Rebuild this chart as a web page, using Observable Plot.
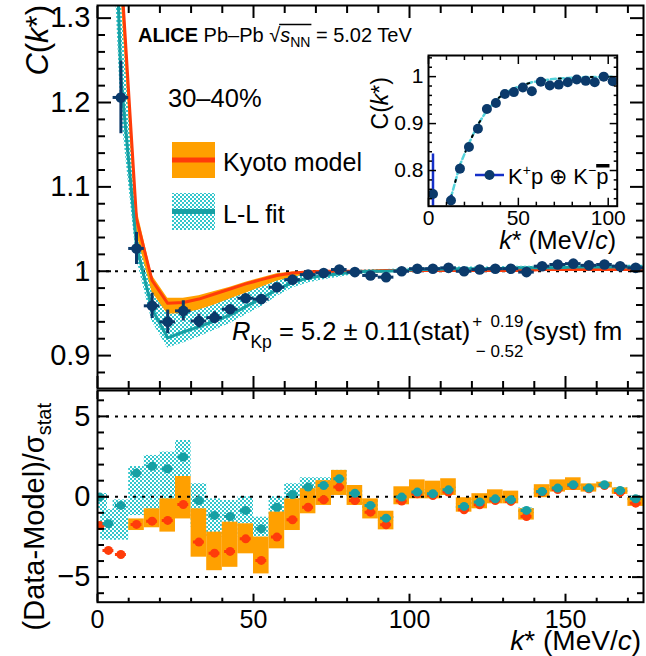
<!DOCTYPE html>
<html>
<head>
<meta charset="utf-8">
<script src="https://cdn.jsdelivr.net/npm/d3@7"></script>
<script src="https://cdn.jsdelivr.net/npm/@observablehq/plot@0.6"></script>
<style>
html,body{margin:0;padding:0;background:#fff;}
#wrap{position:relative;width:646px;height:656px;overflow:hidden;background:#fff;}
#wrap svg{position:absolute;left:0;top:0;}
</style>
</head>
<body>
<div id="wrap"></div>
<script>
// ---------------- data ----------------
const kBins = [2.5,7.5,12.5,17.5,22.5,27.5,32.5,37.5,42.5,47.5,52.5,57.5,62.5,67.5,72.5,77.5,82.5,87.5,92.5,97.5,102.5,107.5,112.5,117.5,122.5,127.5,132.5,137.5,142.5,147.5,152.5,157.5,162.5,167.5,172.5];
const corrData = [null,1.206,1.027,0.959,0.940,0.953,0.941,0.945,0.955,0.968,0.967,0.981,0.990,0.996,0.998,1.002,0.999,0.995,0.993,1.000,1.003,1.003,1.004,1.000,1.002,1.003,1.003,0.999,1.006,1.008,1.009,1.007,1.008,1.006,1.004];
const corrStat = [null,0.043,0.019,0.015,0.014,0.012,0.008,0.007,0.005,0.004,0.004,0.003,0.003,0.002,0.002,0.002,0.002,0.002,0.002,0.002,0.002,0.002,0.002,0.002,0.002,0.002,0.002,0.002,0.002,0.002,0.002,0.002,0.002,0.002,0.002];
const binHalfWidth = 2.5;

const modelK = [2.5,7.5,12.5,17.5,22.5,27.5,32.5,37.5,42.5,47.5,52.5,57.5,62.5,67.5,72.5,77.5,82.5,87.5,92.5,97.5,102.5,107.5,112.5,117.5,122.5,127.5,132.5,137.5,142.5,147.5,152.5,157.5,162.5,167.5,172.5,177.5];
const kyotoC  = [2.20,1.36,1.062,0.989,0.962,0.963,0.967,0.973,0.979,0.985,0.990,0.995,0.998,0.999,1.000,1.000,1.000,1.000,1.001,1.001,1.001,1.001,1.001,1.001,1.001,1.001,1.001,1.001,1.002,1.002,1.002,1.002,1.002,1.002,1.002,1.002];
const kyotoLo = [2.10,1.33,1.045,0.975,0.949,0.950,0.954,0.960,0.967,0.974,0.981,0.988,0.993,0.996,0.998,0.999,0.999,0.999,0.999,0.999,0.999,0.999,0.999,0.999,0.999,0.999,0.999,0.999,1.000,1.000,1.000,1.000,1.000,1.000,1.000,1.000];
const kyotoHi = [2.30,1.39,1.075,0.995,0.968,0.968,0.971,0.976,0.981,0.987,0.992,0.997,0.999,1.000,1.001,1.001,1.001,1.001,1.002,1.002,1.002,1.002,1.002,1.002,1.002,1.002,1.002,1.002,1.003,1.003,1.003,1.003,1.003,1.003,1.003,1.003];
const llC  = [1.76,1.23,1.030,0.955,0.921,0.928,0.934,0.941,0.948,0.958,0.968,0.978,0.987,0.992,0.995,0.997,0.999,1.000,1.000,1.001,1.002,1.002,1.003,1.003,1.003,1.003,1.004,1.004,1.004,1.004,1.005,1.005,1.005,1.005,1.005,1.005];
const llLo = [1.60,1.19,1.015,0.940,0.909,0.915,0.922,0.930,0.938,0.948,0.958,0.970,0.980,0.986,0.990,0.993,0.996,0.997,0.998,0.999,1.000,1.000,1.001,1.001,1.001,1.001,1.002,1.002,1.002,1.002,1.003,1.003,1.003,1.003,1.003,1.003];
const llHi = [1.90,1.33,1.065,0.985,0.956,0.958,0.962,0.967,0.973,0.979,0.985,0.991,0.995,0.997,0.999,1.000,1.001,1.002,1.002,1.003,1.004,1.004,1.005,1.005,1.005,1.005,1.006,1.006,1.006,1.006,1.007,1.007,1.007,1.007,1.007,1.007];

const insetK   = [2.5,12.5,17.5,22.5,27.5,32.5,37.5,42.5,47.5,52.5,57.5,62.5,67.5,72.5,77.5,82.5,87.5,92.5,97.5,102.5];
const insetC   = [0.750,0.736,0.804,0.850,0.889,0.931,0.944,0.963,0.967,0.977,0.969,0.989,0.981,0.983,0.988,0.994,0.991,0.988,1.000,0.990];
const insetErr = [0.085,0.011,0.008,0.006,0.005,0.004,0.004,0.003,0.003,0.003,0.003,0.003,0.003,0.003,0.003,0.003,0.003,0.003,0.003,0.003];
const insetFitK = [12.5,17.5,22.5,27.5,32.5,37.5,42.5,47.5,52.5,57.5,62.5,67.5,72.5,77.5,82.5,87.5,92.5,97.5,102.5];
const insetFit  = [0.743,0.812,0.858,0.898,0.928,0.950,0.965,0.975,0.982,0.988,0.991,0.994,0.996,0.997,0.998,0.999,0.999,1.000,1.000];

const residK = [0.7,3.5,7.5,12.5,17.5,22.5,27.5,32.5,37.5,42.5,47.5,52.5,57.5,62.5,67.5,72.5,77.5,82.5,87.5,92.5,97.5,102.5,107.5,112.5,117.5,122.5,127.5,132.5,137.5,142.5,147.5,152.5,157.5,162.5,167.5,172.5];
const residLL    = [-0.02,-1.68,-0.54,1.47,1.89,1.74,2.47,-0.23,-1.16,-1.23,-0.85,-1.99,-0.65,0.14,0.60,0.70,1.12,0.22,-0.54,-1.33,-0.02,0.29,0.19,0.43,-0.60,-0.33,-0.13,-0.19,-0.85,0.33,0.54,0.75,0.54,0.75,0.39,-0.13];
const residKyoto = [-1.79,-3.34,-3.59,-1.72,-1.52,-1.47,-0.48,-2.82,-3.51,-3.40,-2.62,-3.96,-2.51,-1.43,-0.65,-0.19,0.60,-0.23,-0.96,-1.74,-0.27,0.19,0.08,0.29,-0.81,-0.50,-0.23,-0.29,-1.23,0.29,0.45,0.70,0.50,0.70,0.27,-0.40];
const kyBandLo = [null,null,null,-2.10,-1.93,-2.20,-1.38,-3.76,-4.60,-4.39,-3.55,-4.80,-3.24,-2.10,-1.06,-0.54,0.08,-0.54,-1.38,-2.06,-0.50,-0.13,-0.13,0.08,-0.96,-0.75,-0.44,-0.44,-1.45,-0.06,0.29,0.39,0.29,0.55,0.15,-0.60];
const kyBandHi = [null,null,null,-1.38,-0.75,-0.13,1.26,-0.75,-2.20,-1.58,-1.68,-2.51,-0.95,-0.13,0.50,1.00,1.64,0.70,-0.13,-0.90,0.62,1.05,0.97,1.12,-0.06,0.19,0.43,0.35,-0.75,0.75,1.05,1.18,0.80,0.90,0.55,-0.05];
const llBandLo = [-0.85,-2.70,-2.70,-1.17,-0.85,-0.23,1.22,-1.90,-2.51,-2.51,-1.68,-2.50,-1.16,-0.33,0.29,0.39,0.70,-0.10,-0.90,-1.50,-0.20,0.10,0.00,0.25,-0.80,-0.50,-0.30,-0.35,-1.05,0.15,0.35,0.55,0.35,0.60,0.20,-0.30];
const llBandHi = [0.20,-0.80,-0.20,1.88,2.57,2.78,3.50,0.81,-0.13,-0.23,0.00,-1.27,0.00,0.81,1.18,1.18,1.64,0.50,-0.20,-1.15,0.15,0.45,0.35,0.60,-0.45,-0.15,0.05,0.00,-0.70,0.50,0.70,0.90,0.70,0.90,0.55,0.05];

// ticks
const xMajor = [0,50,100,150];
const xMinor = [10,20,30,40,60,70,80,90,110,120,130,140,160,170];
const xTickLabels = ["0","50","100","150"];
const yMainMajor = [0.9,1.0,1.1,1.2,1.3];
const yMainMinor = [0.88,0.92,0.94,0.96,0.98,1.02,1.04,1.06,1.08,1.12,1.14,1.16,1.18,1.22,1.24,1.26,1.28];
const yMainLabels = ["0.9","1","1.1","1.2","1.3"];
const yResMajor = [-5,0,5];
const yResMinor = [-6,-4,-3,-2,-1,1,2,3,4,6];
const yResLabels = ["\u22125","0","5"];
const xInsetMajor = [0,50,100];
const xInsetMinor = [10,20,30,40,60,70,80,90];
const xInsetLabels = ["0","50","100"];
const yInsetMajor = [0.8,0.9,1.0];
const yInsetMinor = [0.74,0.76,0.78,0.82,0.84,0.86,0.88,0.92,0.94,0.96,0.98,1.02,1.04];
const yInsetLabels = ["0.8","0.9","1"];

// ---------------- style ----------------
const FONT = '"Liberation Sans", Arial, Helvetica, sans-serif';
const W = 646, H = 656;
const NAVY = "#0b3a6b", RED = "#ff3c0a", ORANGE = "#ffa000", TEAL = "#17a0a4", CYAN = "#33c6cc", BLUE = "#1530c8";

function lab(ticks, labels) { return d => labels[ticks.findIndex(t => Math.abs(t - d) < 1e-9)]; }

function frameTicks(xMaj, xMin, yMaj, yMin, lxM, lxm, lyM, lym, sw) {
  const o = {tickFormat: () => "", label: null, strokeWidth: sw};
  return [
    Plot.axisX({...o, anchor: "bottom", ticks: xMaj, tickSize: -lxM}),
    Plot.axisX({...o, anchor: "bottom", ticks: xMin, tickSize: -lxm}),
    Plot.axisX({...o, anchor: "top", ticks: xMaj, tickSize: -lxM}),
    Plot.axisX({...o, anchor: "top", ticks: xMin, tickSize: -lxm}),
    Plot.axisY({...o, anchor: "left", ticks: yMaj, tickSize: -lyM}),
    Plot.axisY({...o, anchor: "left", ticks: yMin, tickSize: -lym}),
    Plot.axisY({...o, anchor: "right", ticks: yMaj, tickSize: -lyM}),
    Plot.axisY({...o, anchor: "right", ticks: yMin, tickSize: -lym})
  ];
}

function addPattern(svg, id) {
  const defs = d3.select(svg).insert("defs", ":first-child");
  const p = defs.append("pattern").attr("id", id).attr("width", 4).attr("height", 4).attr("patternUnits", "userSpaceOnUse");
  p.append("rect").attr("width", 4).attr("height", 4).attr("fill", "#ffffff");
  p.append("rect").attr("width", 2).attr("height", 2).attr("fill", CYAN);
  p.append("rect").attr("x", 2).attr("y", 2).attr("width", 2).attr("height", 2).attr("fill", CYAN);
}

const baseStyle = {background: "transparent", fontFamily: FONT, overflow: "visible"};

// ---------------- main panel ----------------
const mainRows = kBins.map((k, i) => ({k, c: corrData[i], e: corrStat[i]})).filter(d => d.c != null);
const modelRows = modelK.map((k, i) => ({k, ky: kyotoC[i], kyLo: kyotoLo[i], kyHi: kyotoHi[i], ll: llC[i], llLo: llLo[i], llHi: llHi[i]}));

const main = Plot.plot({
  width: W, height: H,
  marginLeft: 97, marginRight: 3, marginTop: 5, marginBottom: H - 388,
  x: {domain: [0, 175]},
  y: {domain: [0.861, 1.315]},
  style: baseStyle,
  marks: [
    Plot.areaY(modelRows, {x: "k", y1: "llLo", y2: "llHi", fill: "url(#llPatMain)", clip: true}),
    Plot.areaY(modelRows, {x: "k", y1: "kyLo", y2: "kyHi", fill: ORANGE, clip: true}),
    Plot.ruleY([1], {stroke: "black", strokeWidth: 2, strokeDasharray: "3,6"}),
    Plot.line(modelRows, {x: "k", y: "ky", stroke: RED, strokeWidth: 3, clip: true}),
    Plot.line(modelRows, {x: "k", y: "ll", stroke: TEAL, strokeWidth: 3, clip: true}),
    Plot.ruleX(mainRows, {x: "k", y1: d => d.c - d.e, y2: d => d.c + d.e, stroke: NAVY, strokeWidth: 3, clip: true}),
    Plot.ruleY(mainRows, {y: "c", x1: d => d.k - binHalfWidth, x2: d => d.k + binHalfWidth, stroke: NAVY, strokeWidth: 3, clip: true}),
    Plot.dot(mainRows, {x: "k", y: "c", r: 5.3, fill: NAVY, stroke: null, clip: true}),
    Plot.frame({stroke: "black", strokeWidth: 2}),
    ...frameTicks(xMajor, xMinor, yMainMajor, yMainMinor, 12, 7, 14, 8, 2),
    Plot.axisY({anchor: "left", ticks: yMainMajor, tickSize: 0, tickPadding: 7, tickFormat: lab(yMainMajor, yMainLabels), fontSize: 29, label: null})
  ]
});
addPattern(main, "llPatMain");

// ---------------- residual panel ----------------
const resRows = residK.map((k, i) => ({k, ll: residLL[i], ky: residKyoto[i], kyLo: kyBandLo[i], kyHi: kyBandHi[i], llLo: llBandLo[i], llHi: llBandHi[i]}));
const bottom = Plot.plot({
  width: W, height: H,
  marginLeft: 97, marginRight: 3, marginTop: 390, marginBottom: H - 601.7,
  x: {domain: [0, 175]},
  y: {domain: [-6.56, 6.61]},
  style: baseStyle,
  marks: [
    Plot.rect(resRows, {x1: d => d.k - binHalfWidth, x2: d => d.k + binHalfWidth, y1: "llLo", y2: "llHi", fill: "url(#llPatRes)", clip: true}),
    Plot.rect(resRows.filter(d => d.kyLo != null), {x1: d => d.k - binHalfWidth, x2: d => d.k + binHalfWidth, y1: "kyLo", y2: "kyHi", fill: ORANGE, clip: true}),
    Plot.ruleY(yResMajor, {stroke: "black", strokeWidth: 2, strokeDasharray: "3,6"}),
    Plot.ruleY(resRows, {y: "ky", x1: d => d.k - binHalfWidth * 0.7, x2: d => d.k + binHalfWidth * 0.7, stroke: RED, strokeWidth: 3, clip: true}),
    Plot.dot(resRows, {x: "k", y: "ky", r: 4.5, fill: RED, stroke: null, clip: true}),
    Plot.ruleY(resRows, {y: "ll", x1: d => d.k - binHalfWidth * 0.7, x2: d => d.k + binHalfWidth * 0.7, stroke: TEAL, strokeWidth: 3, clip: true}),
    Plot.dot(resRows, {x: "k", y: "ll", r: 4.5, fill: TEAL, stroke: null, clip: true}),
    Plot.frame({stroke: "black", strokeWidth: 2}),
    ...frameTicks(xMajor, xMinor, yResMajor, yResMinor, 8, 4, 12, 7, 2),
    Plot.axisY({anchor: "left", ticks: yResMajor, tickSize: 0, tickPadding: 7, tickFormat: lab(yResMajor, yResLabels), fontSize: 29, label: null}),
    Plot.axisX({anchor: "bottom", ticks: xMajor, tickSize: 0, tickPadding: 8, tickFormat: lab(xMajor, xTickLabels), fontSize: 25, label: null})
  ]
});
addPattern(bottom, "llPatRes");

// ---------------- inset ----------------
const insetRows = insetK.map((k, i) => ({k, c: insetC[i], e: insetErr[i]}));
const fitRows = insetFitK.map((k, i) => ({k, c: insetFit[i]}));
const inset = Plot.plot({
  width: W, height: H,
  marginLeft: 428, marginRight: W - 616.7, marginTop: 55, marginBottom: H - 205.7,
  x: {domain: [0, 105]},
  y: {domain: [0.724, 1.045]},
  style: baseStyle,
  marks: [
    Plot.frame({fill: "white", stroke: null}),
    Plot.line(fitRows, {x: "k", y: "c", stroke: "#55d4dc", strokeWidth: 2.5, strokeDasharray: "5,3", clip: true}),
    Plot.line(fitRows, {x: "k", y: "c", stroke: "black", strokeWidth: 2, strokeDasharray: "2,14", clip: true}),
    Plot.ruleX(insetRows, {x: "k", y1: d => d.c - d.e, y2: d => d.c + d.e, stroke: BLUE, strokeWidth: 2.5, clip: true}),
    Plot.dot(insetRows, {x: "k", y: "c", r: 5, fill: NAVY, stroke: null, clip: true}),
    Plot.frame({stroke: "black", strokeWidth: 2}),
    ...frameTicks(xInsetMajor, xInsetMinor, yInsetMajor, yInsetMinor, 8, 4, 8, 4, 1.5),
    Plot.axisY({anchor: "left", ticks: yInsetMajor, tickSize: 0, tickPadding: 5, tickFormat: lab(yInsetMajor, yInsetLabels), fontSize: 21, label: null}),
    Plot.axisX({anchor: "bottom", ticks: xInsetMajor, tickSize: 0, tickPadding: 4, tickFormat: lab(xInsetMajor, xInsetLabels), fontSize: 21, label: null})
  ]
});

const wrap = document.getElementById("wrap");
wrap.append(bottom);
wrap.append(main);
wrap.append(inset);

// ---------------- annotations ----------------
function addText(svg, x, y, size, parts, opt = {}) {
  const t = d3.select(svg).append("text")
    .attr("x", x).attr("y", y).attr("font-size", size)
    .attr("font-family", FONT).attr("fill", "black")
    .attr("text-anchor", opt.anchor || "start");
  if (opt.rotate) t.attr("transform", `rotate(-90 ${x} ${y})`);
  let cur = 0;
  for (const p of parts) {
    const s = t.append("tspan").text(p.t);
    const shift = p.shift || 0;
    if (shift !== cur) { s.attr("dy", shift - cur); cur = shift; }
    if (p.i) s.attr("font-style", "italic");
    if (p.b) s.attr("font-weight", "bold");
    if (p.size) s.attr("font-size", p.size);
  }
  return t;
}
const M = main;

// header
const hdr = addText(M, 138, 42, 20, [
  {t: "ALICE", b: true}, {t: " Pb\u2013Pb "}, {t: "\u221A"}, {t: "s", i: true},
  {t: "NN", size: 14, shift: 5}, {t: " = 5.02 TeV", shift: 0}
]);
{
  const n = hdr.node();
  const str = n.textContent;
  const iRad = str.indexOf("\u221A");
  const iEnd = str.indexOf("NN") + 1;
  const x0 = n.getEndPositionOfChar(iRad).x - 1;
  const x1 = n.getEndPositionOfChar(iEnd).x + 1;
  d3.select(M).append("line").attr("x1", x0).attr("x2", x1).attr("y1", 24.5).attr("y2", 24.5).attr("stroke", "black").attr("stroke-width", 1.5);
}

addText(M, 168, 107, 25.5, [{t: "30\u201340%"}]);

// legend
d3.select(M).append("rect").attr("x", 172).attr("y", 142).attr("width", 43).attr("height", 36).attr("fill", ORANGE);
d3.select(M).append("line").attr("x1", 172).attr("x2", 215).attr("y1", 160).attr("y2", 160).attr("stroke", RED).attr("stroke-width", 5);
addText(M, 223, 171, 25, [{t: "Kyoto model"}]);
d3.select(M).append("rect").attr("x", 172).attr("y", 193).attr("width", 43).attr("height", 37).attr("fill", "url(#llPatMain)");
d3.select(M).append("line").attr("x1", 172).attr("x2", 215).attr("y1", 211.5).attr("y2", 211.5).attr("stroke", TEAL).attr("stroke-width", 5);
addText(M, 223, 223, 25, [{t: "L-L fit"}]);

// radius text
const rk = addText(M, 232, 339.5, 25.5, [{t: "R", i: true}, {t: "Kp", size: 17.5, shift: 8}, {t: " = 5.2 \u00B1 0.11(stat)", shift: 0}]);
{
  const endX = 232 + rk.node().getComputedTextLength();
  const sup = addText(M, endX + 2, 327, 17, [{t: "+\u2009 0.19"}]);
  const wSup = sup.node().getComputedTextLength();
  const right = endX + 2 + wSup;
  addText(M, right, 356.5, 17, [{t: "\u2212 0.52"}], {anchor: "end"});
  addText(M, right + 1, 339.5, 25.5, [{t: "(syst) fm"}]);
}

// axis titles
addText(M, 48, 5, 31, [{t: "C", i: true}, {t: "("}, {t: "k", i: true}, {t: "*)"}], {anchor: "end", rotate: true});
addText(M, 44, 403, 29, [{t: "(Data-Model)/\u03C3"}, {t: "stat", size: 20, shift: 7}], {anchor: "end", rotate: true});
addText(M, 641, 649.5, 28, [{t: "k", i: true}, {t: "* (MeV/"}, {t: "c", i: true}, {t: ")"}], {anchor: "end"});

// inset titles
addText(M, 388, 77, 23, [{t: "C("}, {t: "k", i: true}, {t: "*)"}], {anchor: "end", rotate: true});
addText(M, 616, 248.5, 25, [{t: "k", i: true}, {t: "* (MeV/"}, {t: "c", i: true}, {t: ")"}], {anchor: "end"});

// inset legend (on inset svg)
d3.select(inset).append("line").attr("x1", 475).attr("x2", 504).attr("y1", 175).attr("y2", 175).attr("stroke", BLUE).attr("stroke-width", 2.5);
d3.select(inset).append("circle").attr("cx", 489.5).attr("cy", 175).attr("r", 5).attr("fill", NAVY);
const lg = addText(inset, 508, 184, 22, [{t: "K"}, {t: "+", size: 14, shift: -9}, {t: "p \u2295 K", shift: 0}, {t: "\u2212", size: 14, shift: -9}, {t: "p", shift: 0}]);
{
  const n = lg.node();
  const last = n.textContent.length - 1;
  const a = n.getStartPositionOfChar(last).x, b = n.getEndPositionOfChar(last).x;
  d3.select(inset).append("rect").attr("x", a).attr("y", 164).attr("width", b - a + 1).attr("height", 3.5).attr("fill", "black");
}
</script>
</body>
</html>
